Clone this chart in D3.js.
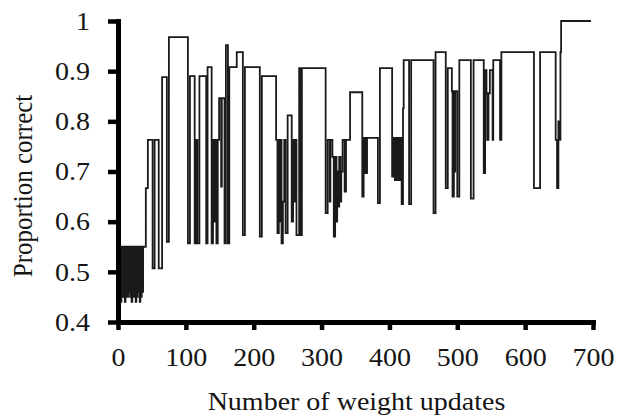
<!DOCTYPE html>
<html>
<head>
<meta charset="utf-8">
<script src="https://cdn.jsdelivr.net/npm/d3@7/dist/d3.min.js"></script>
<style>
  html, body { margin: 0; padding: 0; background: #fff; }
  svg { display: block; }
  text { font-family: "Liberation Serif", "Times New Roman", serif; fill: #151515; }
</style>
</head>
<body>
<svg id="chart" width="617" height="416"></svg>
<script>
// Accuracy trace: each value holds from its update index until the next one.
const updates = [
  0,1,2,3,4,5,6,7,8,9,10,11,12,13,14,15,16,17,18,19,20,21,22,23,24,25,26,27,28,29,30,31,32,33,34,35,36,37,
  41,44,51,54,60,65,72,75,103,106,113,115,117,120,130,132,138,140,141,143,145,147,149,152,153,157,159,162,164,175,
  184,187,209,212,233,235,237,239,240,241,243,245,247,250,256,258,260,261,263,267,269,271,306,309,312,313,316,318,
  320,322,323,325,326,328,329,331,334,336,342,360,362,363,364,365,367,383,386,404,406,408,409,411,413,415,416,418,
  420,421,429,432,465,468,483,486,492,493,495,496,497,500,503,520,524,539,541,543,544,546,548,552,553,563,565,613,
  622,645,647,649,650,652,653,697
];
const proportion = [
  0.45,0.55,0.45,0.55,0.44,0.55,0.45,0.55,0.45,0.55,0.44,0.55,0.45,0.55,0.45,0.55,0.46,0.55,0.45,0.55,0.44,0.55,0.45,0.55,0.45,0.55,0.44,0.55,0.45,0.55,0.46,0.55,0.44,0.55,0.45,0.55,0.46,0.55,
  0.667,0.763,0.507,0.763,0.507,0.888,0.56,0.968,0.557,0.89,0.557,0.763,0.557,0.89,0.557,0.908,0.557,0.763,0.6,0.763,0.557,0.763,0.846,0.67,0.846,0.557,0.952,0.557,0.908,0.938,
  0.573,0.908,0.57,0.89,0.763,0.577,0.763,0.6,0.763,0.557,0.64,0.763,0.577,0.812,0.6,0.763,0.64,0.763,0.573,0.906,0.573,0.906,0.617,0.763,0.64,0.763,0.729,0.57,
  0.729,0.6,0.7,0.63,0.729,0.64,0.7,0.763,0.66,0.763,0.858,0.65,0.767,0.697,0.767,0.697,0.767,0.637,0.906,0.69,0.767,0.683,0.767,0.683,0.767,0.683,0.767,0.635,
  0.826,0.922,0.635,0.922,0.617,0.938,0.667,0.906,0.86,0.65,0.86,0.7,0.86,0.65,0.922,0.646,0.922,0.697,0.902,0.856,0.763,0.856,0.902,0.763,0.922,0.763,0.938,0.667,
  0.938,0.763,0.667,0.8,0.763,0.938,1.0,1.0
];
const xTicks = [0, 100, 200, 300, 400, 500, 600, 700];
const yTicks = [0.4, 0.5, 0.6, 0.7, 0.8, 0.9, 1];
const xTitle = "Number of weight updates";
const yTitle = "Proportion correct";

const svg = d3.select("#chart");
const W = 617, H = 416;
const margin = { left: 118, right: 24, top: 21, bottom: 94 };
const FONT = 25;      // type size
const WIDEN = 1.12;   // horizontal widening of the lettering

const x = d3.scaleLinear().domain([0, 700]).range([margin.left, W - margin.right]);
const y = d3.scaleLinear().domain([0.4, 1]).range([H - margin.bottom, margin.top]);

const points = updates.map((u, i) => [u, proportion[i]]);

// Trace
svg.append("path")
  .datum(points)
  .attr("fill", "none")
  .attr("stroke", "#1a1a1a")
  .attr("stroke-width", 1.8)
  .attr("d", d3.line().x(d => x(d[0])).y(d => y(d[1])).curve(d3.curveStepAfter));

// Axes
const fmtY = d => (d === 1 ? "1" : d3.format(".1f")(d));

const gx = svg.append("g")
  .attr("transform", `translate(0,${y(0.4)})`)
  .call(d3.axisBottom(x).tickValues(xTicks).tickSize(8).tickSizeOuter(0));
const gy = svg.append("g")
  .attr("transform", `translate(${x(0)},0)`)
  .call(d3.axisLeft(y).tickValues(yTicks).tickFormat(fmtY).tickSize(10).tickSizeOuter(0));

[gx, gy].forEach(g => {
  g.select(".domain").attr("stroke", "#000").attr("stroke-width", 5).attr("stroke-linecap", "square");
  g.selectAll(".tick line").attr("stroke", "#000").attr("stroke-width", 4.5);
  g.selectAll(".tick text")
    .attr("font-family", "Liberation Serif, serif")
    .attr("font-size", FONT)
    .attr("fill", "#151515");
});

gx.selectAll(".tick text")
  .attr("y", null).attr("dy", null)
  .attr("transform", `translate(0,44) scale(${WIDEN},1)`);
gy.selectAll(".tick text")
  .attr("x", null)
  .attr("text-anchor", "end")
  .attr("dy", "0.33em")
  .attr("transform", `translate(-28,0) scale(${WIDEN},1)`);

// Axis titles
svg.append("text")
  .attr("transform", `translate(${(x(0) + x(700)) / 2 + 1},410) scale(${WIDEN},1)`)
  .attr("text-anchor", "middle")
  .attr("font-size", FONT)
  .text(xTitle);

svg.append("text")
  .attr("transform", `translate(32,186) scale(${WIDEN},1) rotate(-90)`)
  .attr("text-anchor", "middle")
  .attr("font-size", FONT)
  .text(yTitle);
</script>
</body>
</html>
